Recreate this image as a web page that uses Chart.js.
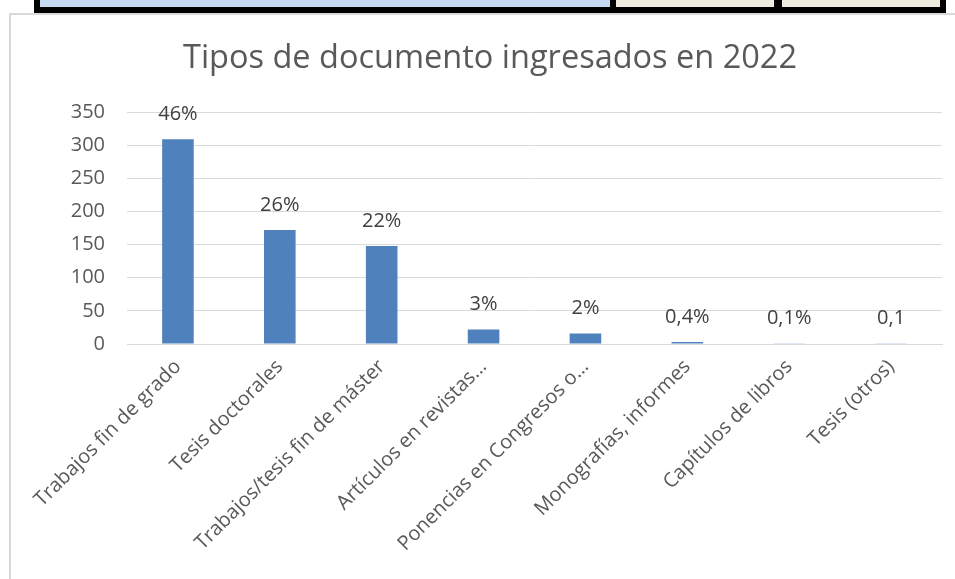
<!DOCTYPE html>
<html>
<head>
<meta charset="utf-8">
<script src="https://cdn.jsdelivr.net/npm/chart.js@4.4.1/dist/chart.umd.min.js"></script>
<style>
  body { margin: 0; background: #fff; width: 955px; height: 579px; overflow: hidden; position: relative; }
  .band { position: absolute; left: 34px; top: 0; width: 912px; height: 13px; background: #000; }
  .cell { position: absolute; top: 0; height: 7px; }
  #frame { position: absolute; left: 9px; top: 13px; width: 960px; height: 580px; border-left: 2px solid #d9d9d9; border-top: 2px solid #d9d9d9; }
  #wrap { position: absolute; left: 10px; top: 15px; width: 945px; height: 564px; }
</style>
</head>
<body>
<div class="band"></div>
<div class="cell" style="left:40px;width:570px;background:#c5d9f1"></div>
<div class="cell" style="left:616px;width:158px;background:#eeece1"></div>
<div class="cell" style="left:782px;width:158px;background:#eeece1"></div>
<div id="frame"></div>
<div id="wrap"><canvas id="docChart"></canvas></div>
<script>
var categorias = ['Trabajos fin de grado', 'Tesis doctorales', 'Trabajos/tesis fin de máster',
  'Artículos en revistas…', 'Ponencias en Congresos o…', 'Monografías, informes',
  'Capítulos de libros', 'Tesis (otros)'];
var cantidades = [309, 172, 148, 22, 16, 3, 1, 1];
var porcentajes = ['46%', '26%', '22%', '3%', '2%', '0,4%', '0,1%', '0,1'];
var ticksY = [0, 50, 100, 150, 200, 250, 300, 350];

var fontName = '"Open Sans", sans-serif';

// etiquetas de porcentaje encima de cada barra
const etiquetas = {
  id: 'etiquetas',
  afterDatasetsDraw(chart) {
    const ctx = chart.ctx;
    const meta = chart.getDatasetMeta(0);
    ctx.save();
    ctx.font = '20px ' + fontName;
    ctx.fillStyle = '#404040';
    ctx.textAlign = 'center';
    ctx.textBaseline = 'middle';
    meta.data.forEach(function(bar, i) {
      ctx.fillText(porcentajes[i], bar.x, bar.y - 25);
    });
    ctx.restore();
  }
};

const docCanvas = document.getElementById('docChart');

let docChart = new Chart(docCanvas, {
  type: 'bar',
  data: {
    labels: categorias,
    datasets: [{
      label: 'Documentos',
      data: cantidades,
      backgroundColor: '#4f81bd',
      borderColor: '#4f81bd',
      barPercentage: 0.31,
      categoryPercentage: 1
    }]
  },
  plugins: [etiquetas],
  options: {
    responsive: true,
    maintainAspectRatio: false,
    animation: false,
    layout: { padding: { left: 28, right: 13, top: 0, bottom: 0 } },
    plugins: {
      legend: { display: false },
      tooltip: { enabled: false },
      title: {
        display: true,
        text: 'Tipos de documento ingresados en 2022',
        color: '#595959',
        font: { family: fontName, size: 32.5, weight: 'normal' },
        padding: { top: 24, bottom: 34 }
      }
    },
    scales: {
      x: {
        grid: { display: false },
        border: { color: '#d9d9d9' },
        ticks: {
          color: '#595959',
          font: { family: fontName, size: 20 },
          maxRotation: 45,
          minRotation: 45,
          autoSkip: false
        },
        afterFit: function(scale) { scale.height = 235; }
      },
      y: {
        min: 0,
        max: 350,
        afterBuildTicks: function(scale) {
          scale.ticks = ticksY.map(function(v) { return { value: v }; });
        },
        grid: { color: '#d9d9d9', drawTicks: false },
        border: { display: false },
        ticks: {
          color: '#595959',
          font: { family: fontName, size: 20 },
          padding: 22
        },
        afterFit: function(scale) { scale.width = 89; }
      }
    }
  }
});
</script>
</body>
</html>
